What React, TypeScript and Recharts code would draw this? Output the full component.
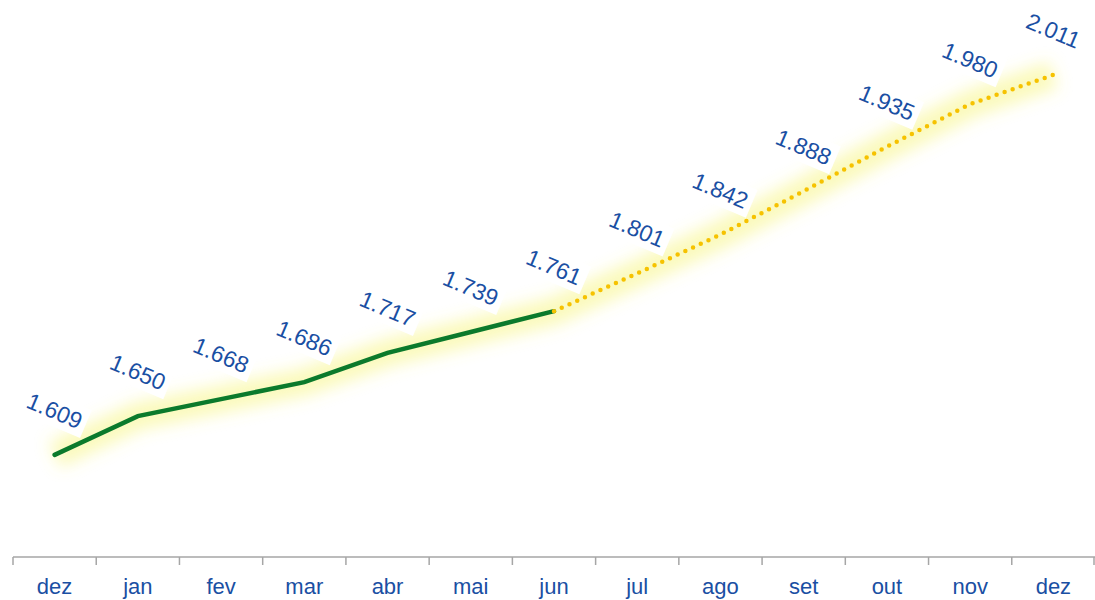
import { LineChart, Line, XAxis, YAxis } from 'recharts';

const months = ['dez', 'jan', 'fev', 'mar', 'abr', 'mai', 'jun', 'jul', 'ago', 'set', 'out', 'nov', 'dez'];
const realizado = [1.609, 1.65, 1.668, 1.686, 1.717, 1.739, 1.761, null, null, null, null, null, null];
const projecao = [null, null, null, null, null, null, 1.761, 1.801, 1.842, 1.888, 1.935, 1.98, 2.011];

const data = months.map((m, i) => ({
  i,
  real: realizado[i],
  proj: projecao[i],
  glow: realizado[i] ?? projecao[i],
}));

const W = 1095;
const H = 600;
const LEFT = 13;
const STEP = (W - LEFT) / months.length;
const BLUE = '#1a4fa3';

const ValueLabel = (props: any) => {
  const { x, y, value, index, skip } = props;
  if (value == null || index === skip) return null;
  return (
    <g transform={`translate(${x},${y - 44}) rotate(23)`}>
      <rect x={-34} y={-15} width={68} height={30} fill="#fff" />
      <text
        textAnchor="middle"
        dominantBaseline="central"
        fontSize={23}
        fill={BLUE}
        fontFamily="'Liberation Sans', Arial, sans-serif"
      >
        {value.toFixed(3)}
      </text>
    </g>
  );
};

const MonthTick = (props: any) => {
  const { x, payload, index } = props;
  const axisY = 557;
  return (
    <g>
      <line x1={x - STEP / 2} x2={x - STEP / 2} y1={axisY} y2={axisY + 8} stroke="#a6a6a6" strokeWidth={1.5} />
      {index === months.length - 1 && (
        <line x1={x + STEP / 2 - 1} x2={x + STEP / 2 - 1} y1={axisY} y2={axisY + 8} stroke="#a6a6a6" strokeWidth={1.5} />
      )}
      <text x={x} y={594} textAnchor="middle" fontSize={22} fill={BLUE} fontFamily="'Liberation Sans', Arial, sans-serif">
        {months[payload.value]}
      </text>
    </g>
  );
};

export default function App() {
  return (
    <div style={{ position: 'absolute', left: 0, top: 0, width: W, height: H, background: '#fff' }}>
      <svg width={0} height={0} style={{ position: 'absolute' }}>
        <defs>
          <filter id="glowBlur" x="-20%" y="-50%" width="140%" height="200%">
            <feGaussianBlur stdDeviation="8" />
          </filter>
        </defs>
      </svg>
      <LineChart width={W} height={H} data={data} margin={{ top: 20, right: 0, bottom: 0, left: LEFT }}>
        <XAxis
          dataKey="i"
          type="category"
          height={43}
          padding={{ left: STEP / 2, right: STEP / 2 }}
          axisLine={{ stroke: '#a6a6a6', strokeWidth: 1.5 }}
          tickLine={false}
          interval={0}
          tick={<MonthTick />}
        />
        <YAxis hide domain={[1.501, 2.069]} allowDataOverflow />
        <Line
          dataKey="glow"
          stroke="#f4f25a"
          strokeWidth={28}
          strokeOpacity={0.4}
          filter="url(#glowBlur)"
          dot={false}
          activeDot={false}
          isAnimationActive={false}
        />
        <Line
          dataKey="real"
          stroke="#0b7a2c"
          strokeWidth={4.5}
          strokeLinecap="round"
          dot={false}
          activeDot={false}
          isAnimationActive={false}
          label={<ValueLabel skip={-1} />}
        />
        <Line
          dataKey="proj"
          stroke="#f6c200"
          strokeWidth={4.5}
          strokeLinecap="round"
          strokeDasharray="0 8.5"
          dot={false}
          activeDot={false}
          isAnimationActive={false}
          label={<ValueLabel skip={6} />}
        />
      </LineChart>
    </div>
  );
}
